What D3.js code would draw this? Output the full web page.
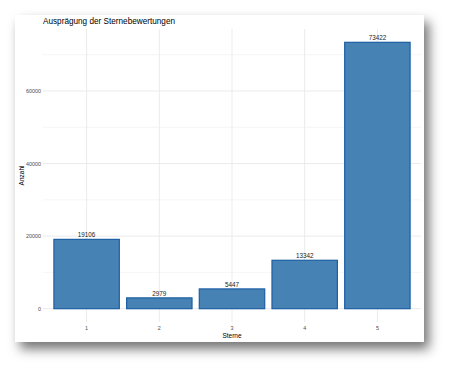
<!DOCTYPE html>
<html>
<head>
<meta charset="utf-8">
<script src="https://cdn.jsdelivr.net/npm/d3@7"></script>
<style>
  html, body { margin: 0; padding: 0; background: #ffffff; }
  svg { display: block; font-family: "Liberation Sans", Arial, sans-serif; }
</style>
</head>
<body>
<div id="chart"></div>
<script>
const stars = ["1", "2", "3", "4", "5"];
const counts = [19106, 2979, 5447, 13342, 73422];
const yTicks = [0, 20000, 40000, 60000];
const yMinor = [10000, 30000, 50000, 70000];

const width = 455;
const height = 373;
const card = { x: 15, y: 15, w: 409, h: 327 }; // white sheet with shadow
const margin = { left: 43, right: 421, top: 29, bottom: 322 }; // panel, in pixels

const svg = d3.select("#chart")
  .append("svg")
  .attr("width", width)
  .attr("height", height);

// drop shadow for the sheet
const filter = svg.append("defs").append("filter")
  .attr("id", "shadow")
  .attr("x", "-10%").attr("y", "-10%")
  .attr("width", "130%").attr("height", "130%");
filter.append("feDropShadow")
  .attr("dx", 5).attr("dy", 7)
  .attr("stdDeviation", 6)
  .attr("flood-color", "#000")
  .attr("flood-opacity", 0.55);

svg.append("rect")
  .attr("x", card.x).attr("y", card.y)
  .attr("width", card.w).attr("height", card.h)
  .attr("fill", "#ffffff")
  .attr("filter", "url(#shadow)");

// scales (ggplot-like expansion: 0.6 units each side)
const x = d3.scaleBand()
  .domain(stars)
  .range([margin.left, margin.right])
  .paddingInner(0)
  .paddingOuter(0.1);

const ymax = d3.max(counts);
const y = d3.scaleLinear()
  .domain([-0.05 * ymax, ymax * 1.05])
  .range([margin.bottom, margin.top]);

const grid = svg.append("g");

// minor horizontal grid
grid.selectAll(".minor")
  .data(yMinor)
  .enter()
  .append("line")
  .attr("x1", margin.left).attr("x2", margin.right)
  .attr("y1", d => y(d)).attr("y2", d => y(d))
  .attr("stroke", "#efefef")
  .attr("stroke-width", 0.6);

// major horizontal grid
grid.selectAll(".major")
  .data(yTicks)
  .enter()
  .append("line")
  .attr("x1", margin.left).attr("x2", margin.right)
  .attr("y1", d => y(d)).attr("y2", d => y(d))
  .attr("stroke", "#ebebeb")
  .attr("stroke-width", 1);

// vertical grid
grid.selectAll(".vgrid")
  .data(stars)
  .enter()
  .append("line")
  .attr("x1", d => x(d) + x.bandwidth() / 2)
  .attr("x2", d => x(d) + x.bandwidth() / 2)
  .attr("y1", margin.top).attr("y2", margin.bottom)
  .attr("stroke", "#ebebeb")
  .attr("stroke-width", 1);

// bars
const barW = x.bandwidth() * 0.9;
svg.selectAll(".bar")
  .data(counts)
  .enter()
  .append("rect")
  .attr("x", (d, i) => x(stars[i]) + (x.bandwidth() - barW) / 2)
  .attr("y", d => y(d))
  .attr("width", barW)
  .attr("height", d => y(0) - y(d))
  .attr("fill", "#4682b4")
  .attr("stroke", "#1d5fa3")
  .attr("stroke-width", 1.2);

// value labels
svg.selectAll(".val")
  .data(counts)
  .enter()
  .append("text")
  .attr("x", (d, i) => x(stars[i]) + x.bandwidth() / 2)
  .attr("y", d => y(d) - 2)
  .attr("text-anchor", "middle")
  .attr("font-size", "6.3px")
  .attr("fill", "#1a1a1a")
  .text(d => d);

// y axis labels
const yAxis = d3.axisLeft(y).tickValues(yTicks).tickSize(0).tickPadding(2).tickFormat(d3.format("d"));
const gy = svg.append("g")
  .attr("transform", `translate(${margin.left},0)`)
  .call(yAxis);
gy.select(".domain").remove();
gy.selectAll("text")
  .attr("font-family", "Liberation Sans, Arial, sans-serif")
  .attr("font-size", "5.4px")
  .attr("fill", "#4d4d4d");

// x axis labels
const xAxis = d3.axisBottom(x).tickSize(0).tickPadding(4);
const gx = svg.append("g")
  .attr("transform", `translate(0,${margin.bottom})`)
  .call(xAxis);
gx.select(".domain").remove();
gx.selectAll("text")
  .attr("font-family", "Liberation Sans, Arial, sans-serif")
  .attr("font-size", "5.4px")
  .attr("fill", "#4d4d4d");

// titles
svg.append("text")
  .attr("x", margin.left)
  .attr("y", 24)
  .attr("font-size", "8.2px")
  .attr("fill", "#000")
  .text("Ausprägung der Sternebewertungen");

svg.append("text")
  .attr("x", (margin.left + margin.right) / 2)
  .attr("y", 338)
  .attr("text-anchor", "middle")
  .attr("font-size", "6.5px")
  .attr("fill", "#000")
  .text("Sterne");

svg.append("text")
  .attr("transform", `translate(24,${(margin.top + margin.bottom) / 2}) rotate(-90)`)
  .attr("text-anchor", "middle")
  .attr("font-size", "6.5px")
  .attr("fill", "#000")
  .text("Anzahl");
</script>
</body>
</html>
